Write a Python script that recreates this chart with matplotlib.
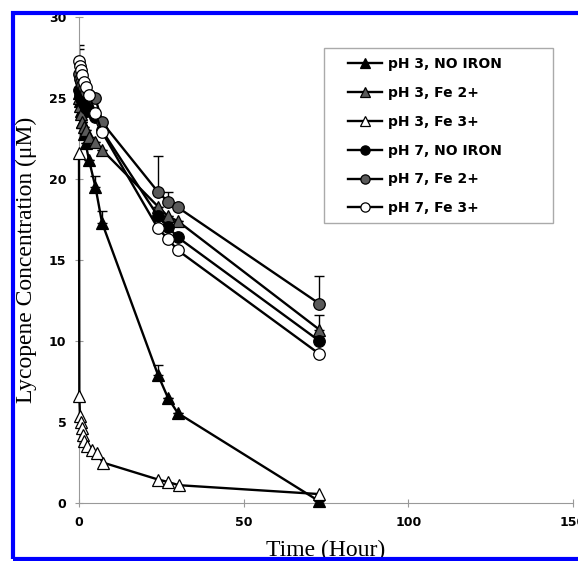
import numpy as np
import matplotlib.pyplot as plt
from matplotlib.patches import Rectangle

# sampling times (hours)
t_main = [0, 0.25, 0.5, 1, 1.5, 2, 3, 5, 7, 24, 27, 30, 73]
t_fe3 = [0, 0.1, 0.3, 0.6, 0.8, 1.2, 1.6, 2.3, 3.9, 5.5, 7.2, 24, 27, 30.3, 73]

# lycopene concentration (uM)
ph3_none = [25.3, 24.8, 24.2, 23.5, 22.8, 22.2, 21.2, 19.5, 17.3, 7.9, 6.5, 5.55, 0.1]
ph3_fe2 = [25.0, 24.5, 24.0, 23.5, 23.2, 23.0, 22.6, 22.3, 21.8, 18.3, 17.7, 17.4, 10.7]
ph3_fe3 = [21.6, 6.6, 5.4, 5.0, 4.6, 4.2, 3.8, 3.5, 3.3, 3.1, 2.5, 1.45, 1.3, 1.1, 0.55]
ph7_none = [25.5, 25.2, 25.0, 24.8, 24.6, 24.4, 24.2, 23.8, 23.0, 17.7, 17.05, 16.4, 10.0]
ph7_fe2 = [26.5, 26.2, 26.0, 25.8, 25.6, 25.4, 25.2, 25.0, 23.5, 19.2, 18.6, 18.25, 12.3]
ph7_fe3 = [27.3, 27.0, 26.7, 26.4, 26.0, 25.7, 25.2, 24.05, 22.9, 16.95, 16.3, 15.6, 9.2]

# upper error bars (only a few visible in the figure)
err_ph3_none = [0, 0, 0, 0, 0, 0, 0, 0.7, 0.7, 0.6, 0, 0, 0]
err_ph3_fe2 = [0, 1.2, 0, 0, 0, 0, 0, 0, 0, 0, 0, 0, 0.9]
err_ph7_fe2 = [1.5, 0, 0, 0, 0, 0, 0, 0, 0, 2.2, 0.6, 0, 1.7]
err_ph7_fe3 = [1.0, 0, 0, 0, 0, 0, 0, 0, 0, 0, 0, 0, 0]

labels = ['pH 3, NO IRON', 'pH 3, Fe 2+', 'pH 3, Fe 3+',
          'pH 7, NO IRON', 'pH 7, Fe 2+', 'pH 7, Fe 3+']

gray = '#5a5a5a'

fig = plt.figure(figsize=(5.78, 5.61), dpi=100)
ax = fig.add_axes([79 / 578, 1 - 503 / 561, (573 - 79) / 578, (503 - 17) / 561])

series = [
    (t_main, ph3_none, err_ph3_none, '^', 'black'),
    (t_main, ph3_fe2, err_ph3_fe2, '^', gray),
    (t_fe3, ph3_fe3, None, '^', 'white'),
    (t_main, ph7_none, None, 'o', 'black'),
    (t_main, ph7_fe2, err_ph7_fe2, 'o', gray),
    (t_main, ph7_fe3, err_ph7_fe3, 'o', 'white'),
]

for (t, y, e, m, fc), lab in zip(series, labels):
    if e is not None:
        ax.errorbar(t, y, yerr=[np.zeros(len(e)), e], fmt='none', ecolor='black',
                    elinewidth=1, capsize=3.5, capthick=1, zorder=2)
    ax.plot(t, y, color='black', lw=1.7, marker=m, markersize=8.3,
            markerfacecolor=fc, markeredgecolor='black', markeredgewidth=0.9,
            label=lab, zorder=3, clip_on=False)

ax.set_xlim(0, 150)
ax.set_ylim(0, 30)
ax.set_xticks([0, 50, 100, 150])
ax.set_yticks([0, 5, 10, 15, 20, 25, 30])
for s in ['top', 'right']:
    ax.spines[s].set_visible(False)
for s in ['left', 'bottom']:
    ax.spines[s].set_color('#999999')
    ax.spines[s].set_linewidth(0.8)
ax.tick_params(direction='inout', length=6, color='#999999', width=0.8,
               labelsize=9, pad=6)
for lbl in ax.get_xticklabels() + ax.get_yticklabels():
    lbl.set_fontweight('bold')

ax.set_xlabel('Time (Hour)', family='Liberation Serif', fontsize=17, labelpad=8)
ax.set_ylabel('Lycopene Concentration (\u03bcM)', family='Liberation Serif',
              fontsize=17, labelpad=9)

# legend without its own frame; the box is drawn separately
leg = fig.legend(loc='upper left', bbox_to_anchor=(348 / 578, 1 - 57 / 561),
                 borderaxespad=0, borderpad=0, frameon=False,
                 prop={'weight': 'bold', 'size': 10}, markerscale=0.8,
                 handlelength=2.45, handletextpad=0.4, labelspacing=1.07)
fig.add_artist(Rectangle((324 / 578, 1 - 223 / 561), 229 / 578, 175 / 561,
                         transform=fig.transFigure, fill=False,
                         edgecolor='#aaaaaa', lw=1, zorder=4))

# blue frame around the figure
fig.add_artist(Rectangle((13 / 578, 1 - 559 / 561), 1.1, (559 - 12.5) / 561,
                         transform=fig.transFigure, fill=False,
                         edgecolor='#0000ff', lw=3, zorder=10, clip_on=False))

fig.savefig('out.png', dpi=100)
